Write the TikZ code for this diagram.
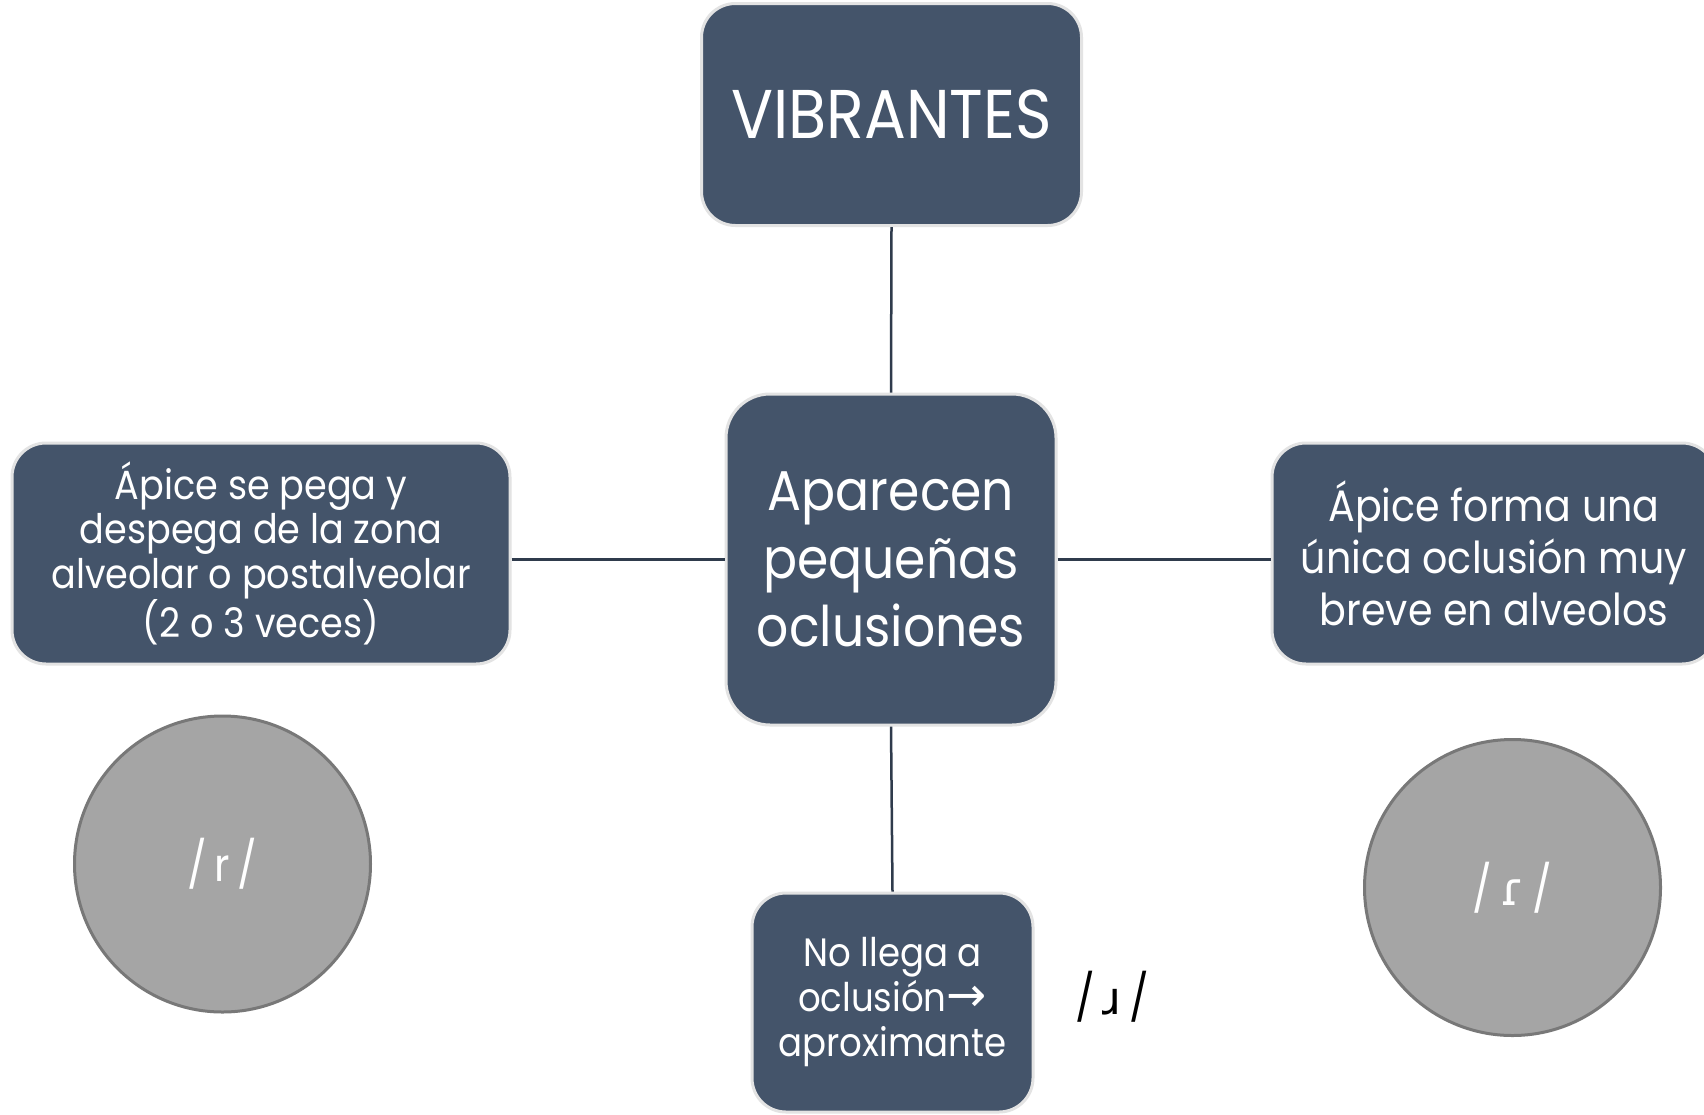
\documentclass[tikz,border=0pt]{standalone}
\usepackage{fontspec}
\setmainfont{Poppins}[FakeStretch=0.9]
\newfontfamily\ipafont{DejaVu Sans}
\definecolor{boxfill}{HTML}{44546A}
\definecolor{boxline}{HTML}{E3E3E3}
\definecolor{linkcol}{HTML}{2F3B4C}
\definecolor{circfill}{HTML}{A5A5A5}
\definecolor{circline}{HTML}{787878}
\begin{document}
\begin{tikzpicture}[x=1pt,y=-1pt,
  bluebox/.style={draw=boxline,line width=3pt,fill=boxfill,text=white,align=center,inner sep=0pt,rounded corners=34pt},
  grayball/.style={circle,draw=circline,line width=3pt,fill=circfill,text=white,minimum size=296pt,inner sep=0pt},
  link/.style={draw=linkcol,line width=2.5pt}]
\useasboundingbox[fill=white] (0,0) rectangle (1704,1114);
\node[bluebox,minimum width=380pt,minimum height=222pt,font=\fontsize{69}{80}\selectfont] (top) at (891.5,114.5) {VIBRANTES};
\node[bluebox,rounded corners=44pt,minimum width=330pt,minimum height=331pt,font=\fontsize{56}{68}\selectfont] (mid) at (891,559.5) {Aparecen\\pequeñas\\oclusiones};
\node[bluebox,minimum width=498pt,minimum height=221pt,font=\fontsize{40.7}{44.5}\selectfont] (left) at (261,553.5) {Ápice se pega y\\despega de la zona\\alveolar o postalveolar\\(2 o 3 veces)};
\node[bluebox,minimum width=444pt,minimum height=221pt,font=\fontsize{44}{52}\selectfont] (right) at (1494,553.5) {Ápice forma una\\única oclusión muy\\breve en alveolos};
\node[bluebox,minimum width=281pt,minimum height=219pt,font=\fontsize{39.5}{45}\selectfont] (bot) at (892.5,1002.5) {No llega a\\oclusión{\ipafont\fontsize{48}{45}\selectfont →}\\aproximante};
\node[grayball,font=\fontsize{46}{50}\selectfont] (cl) at (222.5,864) {/\,r\,/};
\node[grayball,font=\fontsize{46}{50}\selectfont] (cr) at (1512.5,887.5) {/\,{\ipafont ɾ}\,/};
\node[font=\fontsize{46}{50}\selectfont] (approx) at (1112,997) {/\,{\ipafont ɹ}\,/};
\path[link] (top.south) -- (mid.north);
\path[link] (mid.south) -- (bot.north);
\path[link] (left.east |- mid.west) -- (mid.west);
\path[link] (mid.east) -- (right.west |- mid.east);
\end{tikzpicture}
\end{document}
